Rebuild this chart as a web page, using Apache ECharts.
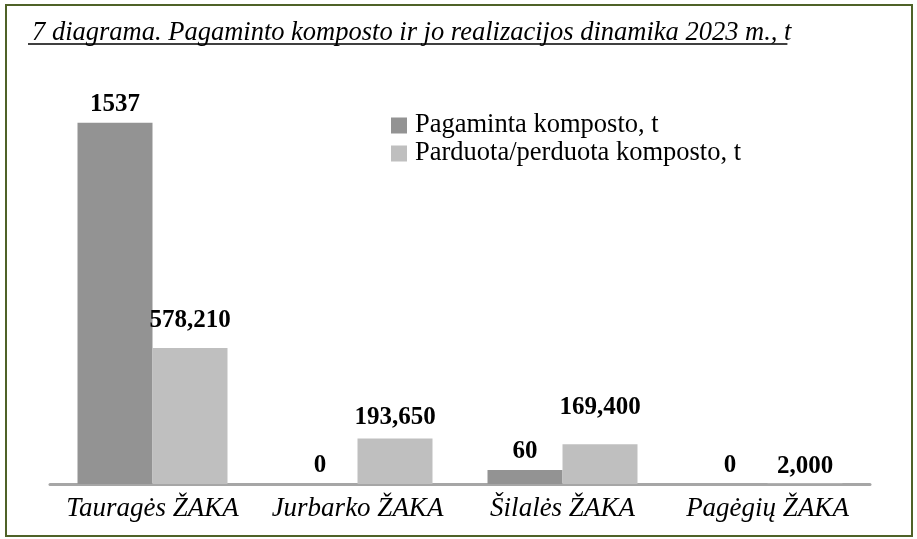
<!DOCTYPE html>
<html>
<head>
<meta charset="utf-8">
<script src="https://cdn.jsdelivr.net/npm/echarts@6/dist/echarts.min.js"></script>
<style>
  html, body { margin: 0; padding: 0; background: #fff; }
  #main { width: 917px; height: 539px; }
</style>
</head>
<body>
<div id="main"></div>
<script>
// duomenys
var categories = ['Tauragės ŽAKA', 'Jurbarko ŽAKA', 'Šilalės ŽAKA', 'Pagėgių ŽAKA'];
var produced = [1537, 0, 60, 0];          // Pagaminta komposto, t
var sold = [578.21, 193.65, 169.4, 2];    // Parduota/perduota komposto, t
var seriesNames = ['Pagaminta komposto, t', 'Parduota/perduota komposto, t'];
var titleText = '7 diagrama. Pagaminto komposto ir jo realizacijos dinamika 2023 m., t';

var serif = '"Liberation Serif", "Times New Roman", serif';
var titleSize = 26.5;

// underline width for the title
var ctx = document.createElement('canvas').getContext('2d');
ctx.font = 'italic ' + titleSize + 'px ' + serif;
var titleW = ctx.measureText(titleText).width;

var chart = echarts.init(document.getElementById('main'));

var labelStyle = {
  show: true,
  position: 'top',
  distance: 6,
  fontFamily: serif,
  fontWeight: 'bold',
  fontSize: 25,
  color: '#000'
};

// labels in the original are not all at the same height
var soldLabelGap = [15, 8, 24, 4];
var soldData = sold.map(function (v, i) {
  return { value: v, label: { distance: soldLabelGap[i] } };
});

var option = {
  animation: false,
  title: {
    text: titleText,
    left: 27,
    top: 15,
    textStyle: {
      fontFamily: serif,
      fontStyle: 'italic',
      fontWeight: 'normal',
      fontSize: titleSize,
      color: '#000'
    }
  },
  legend: {
    orient: 'vertical',
    left: 386,
    top: 107,
    icon: 'rect',
    itemWidth: 16,
    itemHeight: 16,
    itemGap: 1,
    textStyle: { fontFamily: serif, fontSize: 26.5, color: '#000', padding: [0, 0, 0, 3] },
    data: seriesNames
  },
  grid: { left: 50, right: 47, top: 61, bottom: 55 },
  xAxis: {
    type: 'category',
    data: categories,
    axisLine: { lineStyle: { color: '#a6a6a6', width: 3 } },
    axisTick: { show: false },
    axisLabel: {
      interval: 0,
      margin: 11,
      fontFamily: serif,
      fontStyle: 'italic',
      fontSize: 27,
      color: '#000'
    }
  },
  yAxis: {
    type: 'value',
    min: 0,
    max: 1800,
    show: false,
    splitLine: { show: false }
  },
  series: [
    {
      name: seriesNames[0],
      type: 'bar',
      data: produced,
      barWidth: 75,
      barGap: '0%',
      itemStyle: { color: '#939393' },
      label: Object.assign({}, labelStyle, {
        formatter: function (p) { return String(p.value); }
      })
    },
    {
      name: seriesNames[1],
      type: 'bar',
      data: soldData,
      barWidth: 75,
      itemStyle: { color: '#bfbfbf' },
      label: Object.assign({}, labelStyle, {
        formatter: function (p) { return p.value.toFixed(3).replace('.', ','); }
      })
    }
  ],
  graphic: [
    {
      type: 'rect',
      shape: { x: 6, y: 5, width: 906, height: 531 },
      style: { fill: 'none', stroke: '#4f6228', lineWidth: 2 },
      silent: true
    },
    {
      type: 'line',
      shape: { x1: 28, y1: 44, x2: 28 + titleW, y2: 44 },
      style: { stroke: '#000', lineWidth: 1.5 },
      silent: true
    }
  ]
};

chart.setOption(option);
</script>
</body>
</html>
